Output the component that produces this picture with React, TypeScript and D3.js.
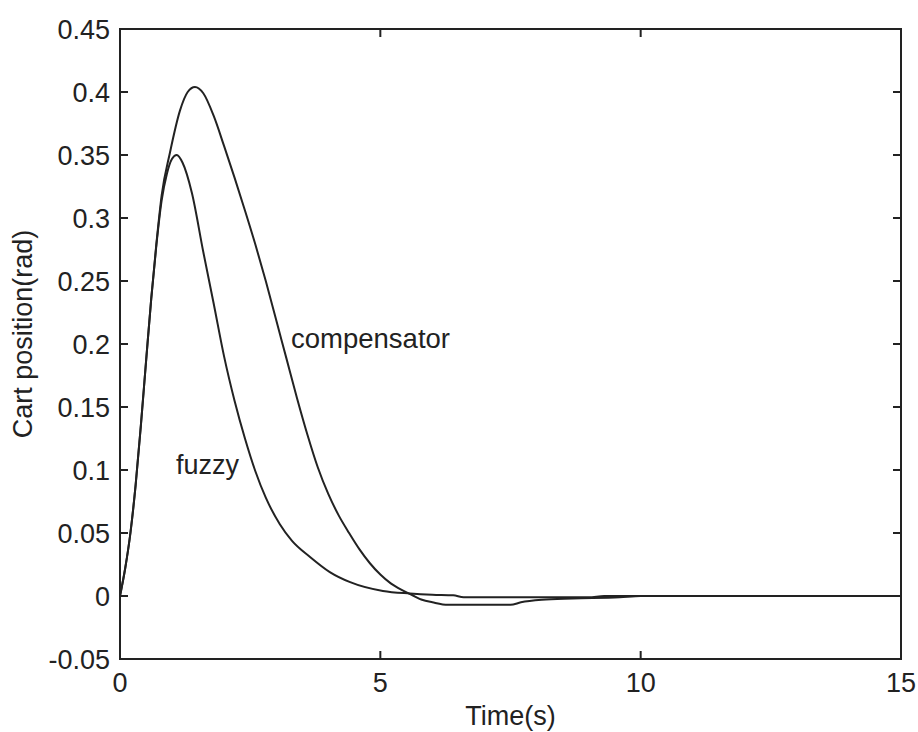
import React from "react";
import * as d3 from "d3";

const timeFuzzy = [0, 0.1, 0.2, 0.3, 0.4, 0.5, 0.6, 0.7, 0.8, 0.9, 1.0, 1.09, 1.2, 1.38, 1.6, 1.8, 2.0, 2.2, 2.4, 2.6, 2.8, 3.07, 3.3, 3.65, 4.03, 4.42, 5.05, 5.57, 6.0, 6.4, 6.6, 9.0, 9.3, 15];
const fuzzy = [0, 0.022, 0.05, 0.088, 0.135, 0.186, 0.236, 0.279, 0.314, 0.335, 0.347, 0.35, 0.344, 0.32, 0.273, 0.232, 0.19, 0.155, 0.125, 0.099, 0.078, 0.057, 0.044, 0.031, 0.019, 0.011, 0.004, 0.002, 0.001, 0.0005, -0.001, -0.001, 0, 0];

const timeComp = [0, 0.1, 0.2, 0.3, 0.4, 0.5, 0.6, 0.7, 0.8, 0.96, 1.15, 1.3, 1.44, 1.6, 1.8, 2.0, 2.2, 2.4, 2.6, 2.8, 3.0, 3.2, 3.4, 3.6, 3.8, 4.0, 4.2, 4.4, 4.6, 4.8, 5.0, 5.2, 5.4, 5.6, 5.8, 6.0, 6.3, 7.5, 7.7, 8.1, 8.7, 9.6, 10, 15];
const compensator = [0, 0.022, 0.05, 0.088, 0.135, 0.186, 0.236, 0.28, 0.318, 0.352, 0.385, 0.4, 0.404, 0.399, 0.381, 0.357, 0.332, 0.306, 0.279, 0.25, 0.219, 0.188, 0.157, 0.128, 0.102, 0.081, 0.064, 0.05, 0.037, 0.026, 0.017, 0.01, 0.005, 0.001, -0.003, -0.005, -0.007, -0.007, -0.005, -0.003, -0.002, -0.001, 0, 0];

const xTicks = [0, 5, 10, 15];
const yTicks = [-0.05, 0, 0.05, 0.1, 0.15, 0.2, 0.25, 0.3, 0.35, 0.4, 0.45];
const yTickLabels = ["-0.05", "0", "0.05", "0.1", "0.15", "0.2", "0.25", "0.3", "0.35", "0.4", "0.45"];

const W = 918;
const H = 732;
const L = 120, R = 901, T = 29, B = 659;
const FONT = "'Liberation Sans', Arial, sans-serif";
const INK = "#222";

export default function App() {
  const x = d3.scaleLinear().domain([0, 15]).range([L, R]);
  const y = d3.scaleLinear().domain([-0.05, 0.45]).range([B, T]);
  const line = d3
    .line<[number, number]>()
    .x((d) => x(d[0]))
    .y((d) => y(d[1]))
    .curve(d3.curveMonotoneX);
  const fz = line(timeFuzzy.map((t, i) => [t, fuzzy[i]] as [number, number])) || "";
  const cp = line(timeComp.map((t, i) => [t, compensator[i]] as [number, number])) || "";
  const tl = 8;

  return (
    <svg width={W} height={H} style={{ position: "absolute", left: 0, top: 0, background: "#fff" }}>
      <rect x={0} y={0} width={W} height={H} fill="#fff" />
      <path d={fz} fill="none" stroke={INK} strokeWidth={2} />
      <path d={cp} fill="none" stroke={INK} strokeWidth={2} />
      <rect x={L} y={T} width={R - L} height={B - T} fill="none" stroke={INK} strokeWidth={2} />
      {yTicks.map((v, i) => (
        <g key={"y" + i}>
          <line x1={L} x2={L + tl} y1={y(v)} y2={y(v)} stroke={INK} strokeWidth={2} />
          <line x1={R} x2={R - tl} y1={y(v)} y2={y(v)} stroke={INK} strokeWidth={2} />
          <text x={L - 10} y={y(v)} dy="0.36em" textAnchor="end" fontFamily={FONT} fontSize={27} fill={INK}>
            {yTickLabels[i]}
          </text>
        </g>
      ))}
      {xTicks.map((v, i) => (
        <g key={"x" + i}>
          <line x1={x(v)} x2={x(v)} y1={B} y2={B - tl} stroke={INK} strokeWidth={2} />
          <line x1={x(v)} x2={x(v)} y1={T} y2={T + tl} stroke={INK} strokeWidth={2} />
          <text x={x(v)} y={692} textAnchor="middle" fontFamily={FONT} fontSize={27} fill={INK}>
            {String(v)}
          </text>
        </g>
      ))}
      <text x={(L + R) / 2} y={725} textAnchor="middle" fontFamily={FONT} fontSize={27} fill={INK}>
        Time(s)
      </text>
      <text
        transform={`translate(32, ${(230 + 438) / 2}) rotate(-90)`}
        textAnchor="middle"
        fontFamily={FONT}
        fontSize={27}
        fill={INK}
      >
        Cart position(rad)
      </text>
      <text x={291} y={348} fontFamily={FONT} fontSize={27.5} fill={INK}>
        compensator
      </text>
      <text x={176} y={474} fontFamily={FONT} fontSize={27} fill={INK}>
        fuzzy
      </text>
    </svg>
  );
}
